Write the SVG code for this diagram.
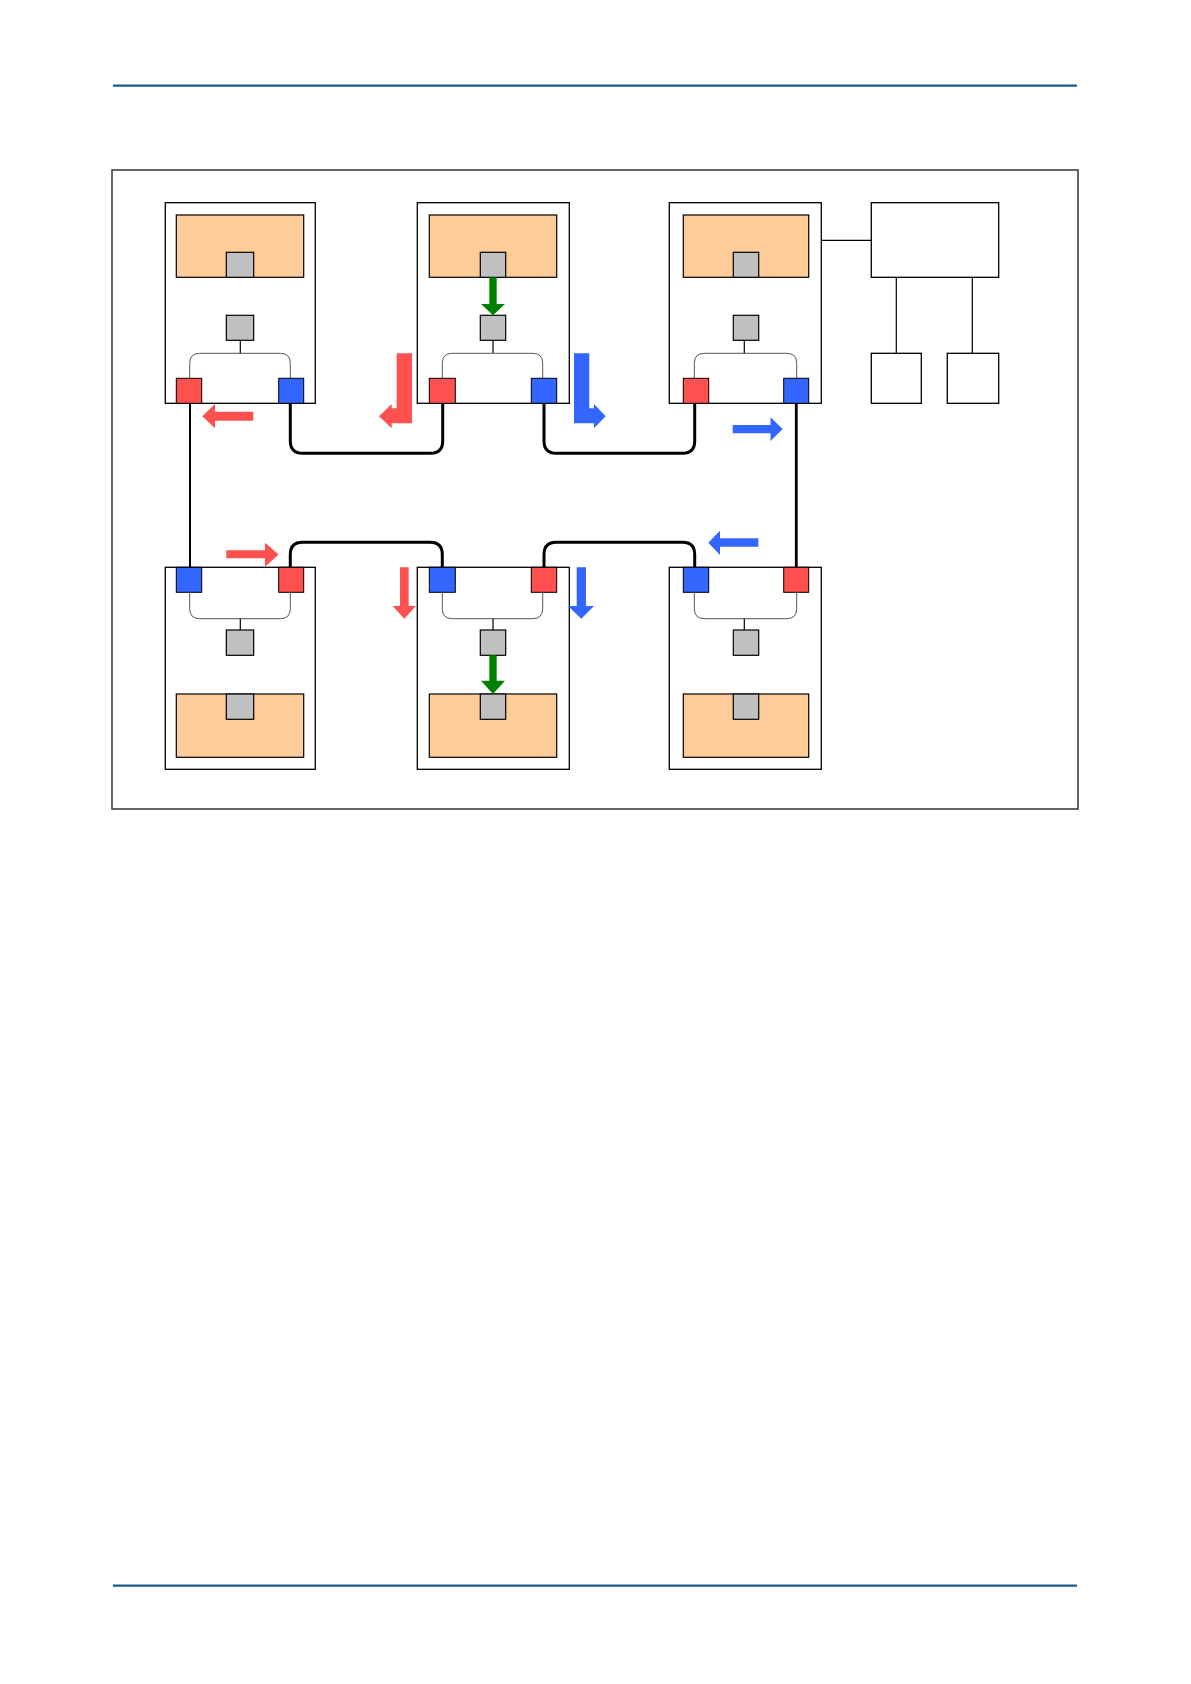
<svg xmlns="http://www.w3.org/2000/svg" width="1191" height="1684" viewBox="0 0 1191 1684">
<style>
.rule{stroke:#1a5b8c;stroke-width:2.2;fill:none}
.frame{fill:#fff;stroke:#404040;stroke-width:1.6}
.box{fill:#fff;stroke:#000;stroke-width:1.3}
.app{fill:#fecc99;stroke:#000;stroke-width:1.2}
.g{fill:#c0c0c0;stroke:#000;stroke-width:1.2}
.r{fill:#ff5050;stroke:#000;stroke-width:1}
.b{fill:#3366ff;stroke:#000;stroke-width:1}
.br{fill:none;stroke:#555;stroke-width:1}
.tk{fill:none;stroke:#000;stroke-width:1.2}
.cable{fill:none;stroke:#000;stroke-width:3}
.ra{fill:#ff5050}
.ba{fill:#3366ff}
.ga{fill:#008000}
</style>
<line class="rule" x1="113" y1="85.7" x2="1077" y2="85.7"/>
<line class="rule" x1="113" y1="1585.7" x2="1077" y2="1585.7"/>
<rect class="frame" x="112" y="170" width="966" height="639"/>

<g id="connectors">
<path class="cable" d="M290.3 403.3 V441 Q290.3 453.3 302.5 453.3 H430.5 Q442.7 453.3 442.7 441 V403.3"/>
<path class="cable" d="M544 403.3 V441 Q544 453.3 556.2 453.3 H682.5 Q694.7 453.3 694.7 441 V403.3"/>
<path class="cable" d="M290.3 567.3 V554.5 Q290.3 542.3 302.5 542.3 H430.1 Q442.3 542.3 442.3 554.5 V567.3"/>
<path class="cable" d="M544 567.3 V554.5 Q544 542.3 556.2 542.3 H682.5 Q694.7 542.3 694.7 554.5 V567.3"/>
<line x1="796.3" y1="403.3" x2="796.3" y2="567.3" stroke="#000" stroke-width="2.8"/>
<line x1="190" y1="403.3" x2="190" y2="567.3" stroke="#000" stroke-width="2"/>
<line class="tk" x1="821.3" y1="240.3" x2="871.3" y2="240.3"/>
<line class="tk" x1="896.3" y1="277.3" x2="896.3" y2="353.3"/>
<line class="tk" x1="972.3" y1="277.3" x2="972.3" y2="353.3"/>
</g>

<g id="node-top-1">
<rect class="box" x="165.3" y="202.7" width="150" height="200.6"/>
<rect class="app" x="176.3" y="215" width="127.4" height="62.3"/>
<rect class="g" x="226.3" y="252.3" width="27.4" height="25"/>
<rect class="g" x="226.3" y="315.3" width="27.4" height="25"/>
<line class="tk" x1="240.3" y1="340.3" x2="240.3" y2="353.3"/>
<path class="br" d="M189.7 378.3 V363.3 Q189.7 353.3 199.7 353.3 H280.3 Q290.3 353.3 290.3 363.3 V378.3"/>
<rect class="r" x="176.3" y="378.3" width="25.4" height="25"/>
<rect class="b" x="278.7" y="378.3" width="25" height="25"/>
</g>

<g id="node-top-2">
<rect class="box" x="417.3" y="202.7" width="152" height="200.6"/>
<rect class="app" x="429.3" y="215" width="127.4" height="62.3"/>
<rect class="g" x="480.3" y="252.3" width="25.4" height="25"/>
<rect class="g" x="480.3" y="315.3" width="25.4" height="25"/>
<line class="tk" x1="493" y1="340.3" x2="493" y2="353.3"/>
<path class="br" d="M442.3 378.3 V363.3 Q442.3 353.3 452.3 353.3 H532.7 Q542.7 353.3 542.7 363.3 V378.3"/>
<rect class="r" x="429.3" y="378.3" width="26" height="25"/>
<rect class="b" x="531.3" y="378.3" width="25.4" height="25"/>
</g>

<g id="node-top-3">
<rect class="box" x="669.3" y="202.7" width="152" height="200.6"/>
<rect class="app" x="683.3" y="215" width="125.4" height="62.3"/>
<rect class="g" x="733.3" y="252.3" width="25.4" height="25"/>
<rect class="g" x="733.3" y="315.3" width="25.4" height="25"/>
<line class="tk" x1="744.3" y1="340.3" x2="744.3" y2="353.3"/>
<path class="br" d="M694.3 378.3 V363.3 Q694.3 353.3 704.3 353.3 H786.7 Q796.7 353.3 796.7 363.3 V378.3"/>
<rect class="r" x="683.3" y="378.3" width="25.4" height="25"/>
<rect class="b" x="783.7" y="378.3" width="25" height="25"/>
</g>

<g id="controller">
<rect class="box" x="871.3" y="202.7" width="127.4" height="74.6"/>
</g>
<g id="device-1">
<rect class="box" x="871.3" y="353.3" width="50" height="50"/>
</g>
<g id="device-2">
<rect class="box" x="947.3" y="353.3" width="51.4" height="50"/>
</g>

<g id="node-bottom-1">
<rect class="box" x="165.3" y="567.3" width="150" height="202"/>
<rect class="b" x="176.3" y="567.3" width="25.4" height="25"/>
<rect class="r" x="278.7" y="567.3" width="25" height="25"/>
<path class="br" d="M189.7 592.3 V608.7 Q189.7 618.7 199.7 618.7 H280.3 Q290.3 618.7 290.3 608.7 V592.3"/>
<line class="tk" x1="240.3" y1="618.7" x2="240.3" y2="630"/>
<rect class="g" x="226.3" y="630" width="27.4" height="25.3"/>
<rect class="app" x="176.3" y="694" width="127.4" height="63.3"/>
<rect class="g" x="226.3" y="694" width="27.4" height="25.3"/>
</g>

<g id="node-bottom-2">
<rect class="box" x="417.3" y="567.3" width="152" height="202"/>
<rect class="b" x="429.3" y="567.3" width="26" height="25"/>
<rect class="r" x="531.3" y="567.3" width="25.4" height="25"/>
<path class="br" d="M442.3 592.3 V608.7 Q442.3 618.7 452.3 618.7 H532.7 Q542.7 618.7 542.7 608.7 V592.3"/>
<line class="tk" x1="493" y1="618.7" x2="493" y2="630"/>
<rect class="g" x="480.3" y="630" width="25.4" height="25.3"/>
<rect class="app" x="429.3" y="694" width="127.4" height="63.3"/>
<rect class="g" x="480.3" y="694" width="25.4" height="25.3"/>
</g>

<g id="node-bottom-3">
<rect class="box" x="669.3" y="567.3" width="152" height="202"/>
<rect class="b" x="683.3" y="567.3" width="25.4" height="25"/>
<rect class="r" x="783.7" y="567.3" width="25" height="25"/>
<path class="br" d="M694.3 592.3 V608.7 Q694.3 618.7 704.3 618.7 H786.7 Q796.7 618.7 796.7 608.7 V592.3"/>
<line class="tk" x1="744.3" y1="618.7" x2="744.3" y2="630"/>
<rect class="g" x="733.3" y="630" width="25.4" height="25.3"/>
<rect class="app" x="683.3" y="694" width="125.4" height="63.3"/>
<rect class="g" x="733.3" y="694" width="25.4" height="25.3"/>
</g>

<g id="flow-arrows">
<polygon class="ra" points="253.3,411.7 215,411.7 215,404 202.3,416.2 215,428.3 215,420.7 253.3,420.7"/>
<polygon class="ra" points="396.7,353.3 412,353.3 412,423.3 391.7,423.3 391.7,428.3 379,416.2 391.7,404 391.7,408.3 396.7,408.3"/>
<polygon class="ba" points="574,353.3 589.3,353.3 589.3,408.3 594,408.3 594,404 605.7,416.2 594,428.3 594,423.3 574,423.3"/>
<polygon class="ba" points="732.7,425 770.5,425 770.5,417.3 782.7,429 770.5,441 770.5,433.3 732.7,433.3"/>
<polygon class="ra" points="226.3,550.3 265,550.3 265,542.7 278.7,554.5 265,566.7 265,558.3 226.3,558.3"/>
<polygon class="ra" points="400,567.3 408.7,567.3 408.7,606 416,606 404.3,618.7 392.7,606 400,606"/>
<polygon class="ba" points="576.7,567.3 586,567.3 586,606 594,606 581.3,618.7 568,606 576.7,606"/>
<polygon class="ba" points="758.3,538.3 720,538.3 720,530.7 708.3,542.7 720,555 720,546.7 758.3,546.7"/>
<polygon class="ga" points="489.3,277.3 496.7,277.3 496.7,304 505,304 493,315.3 481,304 489.3,304"/>
<polygon class="ga" points="489.3,655.3 496.7,655.3 496.7,680.7 505,680.7 493,694 481,680.7 489.3,680.7"/>
</g>
</svg>
